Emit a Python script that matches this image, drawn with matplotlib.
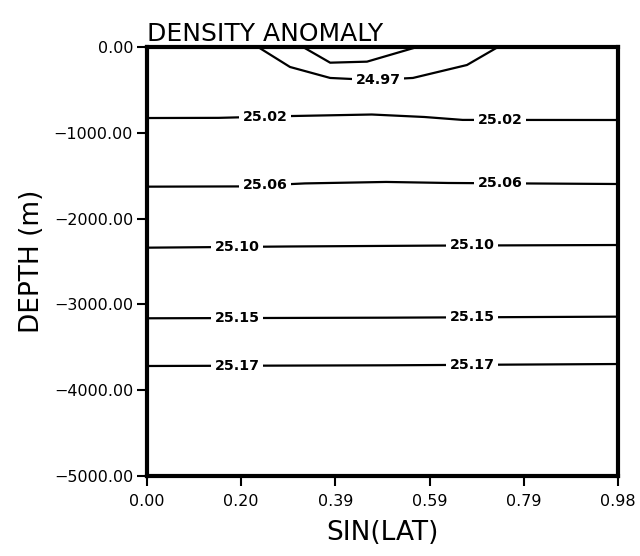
import numpy as np
import matplotlib
matplotlib.use('Agg')
import matplotlib.pyplot as plt

# Оси
x_max = 0.9848          # sin(80 deg)
depth_min = -5000
x_ticks = [0.0, 0.197, 0.394, 0.591, 0.788, 0.9848]
x_tick_labels = ['0.00', '0.20', '0.39', '0.59', '0.79', '0.98']
y_ticks = [0, -1000, -2000, -3000, -4000, -5000]
y_tick_labels = ['0.00', '\u22121000.00', '\u22122000.00', '\u22123000.00', '\u22124000.00', '\u22125000.00']

# Изолинии (sin(lat), глубина в м)
s_2497 = [0.232, 0.299, 0.383, 0.473, 0.556, 0.669, 0.734]
d_2497 = [0, -233, -361, -385, -361, -210, 0]
s_inner = [0.326, 0.383, 0.46, 0.565]
d_inner = [0, -183, -171, 0]
s_2502 = [0.0, 0.15, 0.30, 0.47, 0.58, 0.66, 0.9848]
d_2502 = [-828, -826, -805, -787, -816, -850, -851]
s_2506 = [0.0, 0.20, 0.33, 0.50, 0.63, 0.9848]
d_2506 = [-1628, -1625, -1590, -1573, -1585, -1597]
s_2510 = [0.0, 0.30, 0.60, 0.9848]
d_2510 = [-2339, -2325, -2315, -2308]
s_2515 = [0.0, 0.50, 0.9848]
d_2515 = [-3162, -3155, -3143]
s_2517 = [0.0, 0.50, 0.9848]
d_2517 = [-3718, -3710, -3695]

# Подписи изолиний: текст и положение по sin(lat)
label_2497 = ('24.97', [0.483])
label_2502 = ('25.02', [0.247, 0.738])
label_2506 = ('25.06', [0.247, 0.738])
label_2510 = ('25.10', [0.188, 0.680])
label_2515 = ('25.15', [0.188, 0.680])
label_2517 = ('25.17', [0.188, 0.680])

fig = plt.figure(figsize=(6.4, 5.56), dpi=100)
ax = fig.add_axes([0.2297, 0.1439, 0.7359, 0.7716])

contours = [
    (s_2497, d_2497, label_2497),
    (s_inner, d_inner, None),
    (s_2502, d_2502, label_2502),
    (s_2506, d_2506, label_2506),
    (s_2510, d_2510, label_2510),
    (s_2515, d_2515, label_2515),
    (s_2517, d_2517, label_2517),
]

for s, d, lab in contours:
    ax.plot(s, d, color='black', linewidth=1.6, zorder=2)
    if lab is not None:
        text, positions = lab
        for xp in positions:
            yp = np.interp(xp, s, d)
            ax.text(xp, yp, text, ha='center', va='center', fontsize=10.2,
                    fontweight='bold', zorder=3,
                    bbox=dict(boxstyle='square,pad=0.25', fc='white', ec='none'))

ax.set_xlim(0, x_max)
ax.set_ylim(depth_min, 0)
ax.set_xticks(x_ticks)
ax.set_xticklabels(x_tick_labels)
ax.set_yticks(y_ticks)
ax.set_yticklabels(y_tick_labels)
ax.tick_params(direction='out', length=7, width=1.5, labelsize=11.5)
ax.tick_params(axis='x', pad=6)
ax.tick_params(axis='y', pad=3)

for sp in ax.spines.values():
    sp.set_linewidth(3)

ax.set_xlabel('SIN(LAT)', fontsize=19, labelpad=8)
ax.set_ylabel('DEPTH (m)', fontsize=19, labelpad=6)
ax.set_title('DENSITY ANOMALY', fontsize=18, loc='left', pad=4)

plt.savefig('out.png', dpi=100)
